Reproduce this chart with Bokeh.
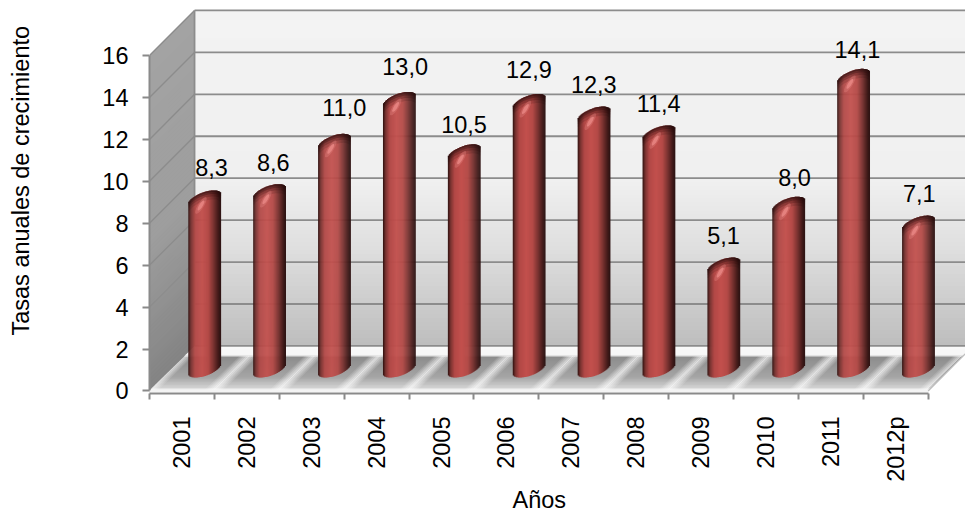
import math
from bokeh.embed import file_html
from bokeh.models import ColumnDataSource, FixedTicker, Label, LinearAxis, Range1d
from bokeh.plotting import figure
from bokeh.resources import INLINE
from bokeh.core.properties import value

# Annual growth rates
years = ["2001", "2002", "2003", "2004", "2005", "2006", "2007", "2008", "2009", "2010", "2011", "2012p"]
rates = [8.3, 8.6, 11.0, 13.0, 10.5, 12.9, 12.3, 11.4, 5.1, 8.0, 14.1, 7.1]
rate_labels = ["8,3", "8,6", "11,0", "13,0", "10,5", "12,9", "12,3", "11,4", "5,1", "8,0", "14,1", "7,1"]
y_ticks = [0, 2, 4, 6, 8, 10, 12, 14, 16]

FONT = "Liberation Sans"
FONT_SIZE = "23.5px"
W, H = 965, 512
LEFT, BASE = 149.5, 390.0          # pixel position of the front-left origin
SX, SY = 64.85, 20.94              # pixels per category, pixels per unit of rate
DEPTH = 45.0                       # oblique depth of the box, in pixels
DX, DY = DEPTH / SX, DEPTH / SY
N = len(years)


def lerp_stops(t, stops):
    for (t0, c0), (t1, c1) in zip(stops, stops[1:]):
        if t <= t1:
            f = (t - t0) / (t1 - t0) if t1 > t0 else 0
            return tuple(round(a + (b - a) * f) for a, b in zip(c0, c1))
    return stops[-1][1]


def hexc(c):
    return "#%02x%02x%02x" % tuple(c)


p = figure(width=W, height=H, output_backend="svg", toolbar_location=None,
           x_range=Range1d(0, (W - LEFT) / SX),
           y_range=Range1d(-2.5 / SY, BASE / SY),
           x_axis_type=None, y_axis_type=None,
           min_border_left=int(LEFT), min_border_right=0, min_border_top=0,
           min_border_bottom=int(H - BASE - 2.5),
           background_fill_color="white", border_fill_color="white",
           outline_line_color=None)
p.grid.visible = False

# Back wall: vertical grey gradient
wall_stops = [(0.0, (243, 243, 243)), (0.5, (240, 240, 240)), (0.72, (222, 222, 222)), (1.0, (190, 190, 190))]
steps = 84
band = 16 / steps
wall_tops = [16 + DY - band * i for i in range(steps)]
p.quad(left=[DX] * steps, right=[DX + N + 1] * steps,
       top=wall_tops, bottom=[t - band - 0.1 for t in wall_tops],
       fill_color=[hexc(lerp_stops(i / (steps - 1), wall_stops)) for i in range(steps)],
       line_color=None)

# Side wall: sheared strips running front to back
side_stops = [(0.0, (163, 163, 163)), (0.55, (158, 158, 158)), (1.0, (132, 132, 132))]
xs_side, ys_side, col_side = [], [], []
for i in range(steps):
    top = 16 - band * i
    bot = top - band - 0.08
    xs_side.append([0, DX, DX, 0])
    ys_side.append([top, top + DY, bot + DY, bot])
    col_side.append(hexc(lerp_stops(i / (steps - 1), side_stops)))
p.patches(xs_side, ys_side, fill_color=col_side, line_color=None)

# Floor: depth gradient with a pale band at the back
floor_stops = [(0.0, (255, 255, 255)), (0.05, (212, 212, 212)), (0.3, (165, 165, 165)),
               (0.76, (140, 140, 140)), (0.80, (245, 245, 245)), (1.0, (250, 250, 250))]
depth_steps = 30
xs_f, ys_f, col_f = [], [], []
for i in range(depth_steps):
    t0, t1 = i / depth_steps, (i + 1.3) / depth_steps
    xs_f.append([t0 * DX, N + t0 * DX, N + t1 * DX, t1 * DX])
    ys_f.append([t0 * DY, t0 * DY, t1 * DY, t1 * DY])
    col_f.append(hexc(lerp_stops(i / (depth_steps - 1), floor_stops)))
p.patches(xs_f, ys_f, fill_color=col_f, line_color=None)

# Floor: soft diagonal sheen between the columns
xs_s, ys_s, al_s = [], [], []
tmax = 0.78
for k in range(N + 1):
    for j in range(-5, 6):
        c = k + j * 0.026 - 0.02
        w = 0.026
        if c < 0 or c + w > N:
            continue
        xs_s.append([c, c + w, c + w + tmax * DX, c + tmax * DX])
        ys_s.append([0.03 * DY, 0.03 * DY, tmax * DY, tmax * DY])
        al_s.append(0.75 * (1 - abs(j) / 6))
p.patches(xs_s, ys_s, fill_color="white", fill_alpha=al_s, line_color=None)

# Floor outline: front and right rim
p.line([0, N], [0, 0], line_color="#f4f4f4", line_width=2)
p.line([N, N + DX], [0, DY], line_color="#bdbdbd", line_width=1.2)

# Gridlines across the back wall and the side wall
GRID = "#8c8c8c"
p.multi_line([[DX, N + 1] for _ in y_ticks], [[v + DY, v + DY] for v in y_ticks],
             line_color=GRID, line_width=1.8)
p.multi_line([[0, DX] for _ in y_ticks[1:]], [[v, v + DY] for v in y_ticks[1:]],
             line_color=GRID, line_width=1.4)
p.line([DX, DX], [DY, 16 + DY], line_color=GRID, line_width=1.8)

# Columns: rounded cylinders in oblique projection, shaded strip by strip
RX, RB = 13.4, 9.0                 # shear terms of the cylinder's base ellipse, in pixels
HALF = math.hypot(RX, RB)
CAP_DROP = 5.0
shade = [(0.0, (60, 24, 22)), (0.07, (120, 50, 48)), (0.2, (178, 72, 70)), (0.42, (194, 80, 77)),
         (0.62, (180, 74, 71)), (0.78, (125, 52, 50)), (0.93, (70, 28, 27)), (1.0, (48, 20, 20))]


def envelope(px):
    """Upper and lower offset of the sheared base ellipse at a horizontal offset."""
    pts = []
    for d in range(0, 721):
        th = math.radians(d / 2)
        pts.append((RX * math.cos(th) + RB * math.sin(th), RB * math.sin(th)))
    near = [q[1] for q in pts if abs(q[0] - px) < 0.35] or [0.0]
    return max(near), min(near)


strips = 32
profile = []
for s in range(strips):
    u0 = -HALF + 2 * HALF * s / strips
    u1 = -HALF + 2 * HALF * (s + 1) / strips
    hi, lo = envelope((u0 + u1) / 2)
    profile.append((u0, u1, hi, lo, s / (strips - 1)))

bar_x, bar_y, bar_c = [], [], []
cap_x, cap_y, cap_a = [], [], []
glow_x, glow_y, glow_a = [], [], []
for k, rate in enumerate(rates):
    cx = k + 0.5 + DX / 2
    for u0, u1, hi, lo, t in profile:
        x0, x1 = cx + u0 / SX, cx + (u1 + 0.5) / SX
        bottom = DY / 2 + lo / SY
        top = rate + DY / 2 + (hi - CAP_DROP) / SY
        bar_x.append([x0, x1, x1, x0])
        bar_y.append([bottom, bottom, top, top])
        bar_c.append(hexc(lerp_stops(t, shade)))
        # darker rim that wraps over the rounded top
        for n, a in ((9, 0.10), (6, 0.16), (3.5, 0.24), (1.5, 0.3)):
            cap_x.append([x0, x1, x1, x0])
            cap_y.append([top - n / SY, top - n / SY, top, top])
            cap_a.append(a)
    # specular spot near the top of the column, two soft layers
    gx, gy = cx - 3.5 / SX, rate + DY / 2 - 11.0 / SY
    for scale, alpha in ((1.7, 0.3), (1.0, 0.7)):
        gxs, gys = [], []
        for d in range(0, 360, 20):
            th = math.radians(d)
            ex, ey = scale * 2.0 * math.cos(th), scale * 5.0 * math.sin(th)
            gxs.append(gx + (ex + 0.55 * ey) / SX)
            gys.append(gy + ey / SY)
        glow_x.append(gxs)
        glow_y.append(gys)
        glow_a.append(alpha)

p.patches(bar_x, bar_y, fill_color=bar_c, line_color=None)
p.patches(cap_x, cap_y, fill_color="#2a0f0f", fill_alpha=cap_a, line_color=None)
p.patches(glow_x, glow_y, fill_color="#ee8d8a", fill_alpha=glow_a, line_color=None)

# Value labels above each column
label_dx = [7, 4, 10, 6, 0, 0, 0, 0, 0, 6, 4, 1]
label_dy = [1, 0, 4, 3, -2, 2, 0, 0, 0, -3, -3, 0]
src = ColumnDataSource(dict(
    x=[k + 0.5 + DX / 2 + n / SX for k, n in enumerate(label_dx)],
    y=[r + DY / 2 + (26.0 + n) / SY for r, n in zip(rates, label_dy)],
    text=rate_labels))
p.text(x="x", y="y", text="text", source=src, text_align="center", text_baseline="middle",
       text_font=value(FONT), text_font_size=FONT_SIZE, text_color="black")

# Axes
AXIS = "#8a8a8a"
yax = LinearAxis(ticker=FixedTicker(ticks=y_ticks), bounds=(0, 16))
yax.axis_line_color = AXIS
yax.axis_line_width = 2
yax.major_tick_line_color = AXIS
yax.major_tick_line_width = 2
yax.major_tick_in = 0
yax.major_tick_out = 7
yax.minor_tick_line_color = None
yax.major_label_standoff = 14
yax.major_label_text_font = FONT
yax.major_label_text_font_size = FONT_SIZE
yax.major_label_text_color = "black"
p.add_layout(yax, "left")

xax = LinearAxis(ticker=FixedTicker(ticks=[k + 0.5 for k in range(N)], minor_ticks=list(range(N + 1))),
                 bounds=(0, N))
xax.major_label_overrides = {k + 0.5: y for k, y in enumerate(years)}
xax.major_label_orientation = math.pi / 2
xax.axis_line_color = AXIS
xax.axis_line_width = 2
xax.major_tick_line_color = None
xax.major_tick_in = 0
xax.major_tick_out = 6
xax.minor_tick_line_color = AXIS
xax.minor_tick_line_width = 2
xax.minor_tick_in = 0
xax.minor_tick_out = 6
xax.major_label_standoff = 17
xax.major_label_text_font = FONT
xax.major_label_text_font_size = FONT_SIZE
xax.major_label_text_color = "black"
p.add_layout(xax, "below")

# Axis titles sit in the side panels, outside the plotting frame
p.add_layout(Label(x=(21 - LEFT) / SX, y=(BASE - 180) / SY, text="Tasas anuales de crecimiento",
                   angle=math.pi / 2, text_align="center", text_baseline="middle",
                   text_font=FONT, text_font_size=FONT_SIZE, text_color="black"), "left")
p.add_layout(Label(x=(539 - LEFT) / SX, y=(BASE - 498.5) / SY, text="Años",
                   text_align="center", text_baseline="middle",
                   text_font=FONT, text_font_size=FONT_SIZE, text_color="black"), "below")

open("out.html", "w").write(file_html(p, INLINE))
